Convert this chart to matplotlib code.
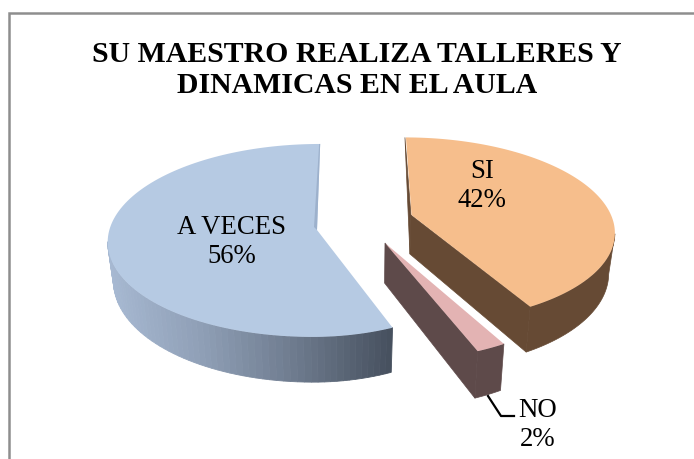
import numpy as np
import matplotlib.pyplot as plt
from matplotlib.colors import LinearSegmentedColormap

categorias = ["SI", "NO", "A VECES"]
porcentajes = [42, 2, 56]
colores_top = ["#F6BE8C", "#E3B3B3", "#B6CAE3"]
colores_side = ["#664A34", "#5E4A4A", None]

titulo = "SU MAESTRO REALIZA TALLERES Y\nDINAMICAS EN EL AULA"

# layout of each exploded slice, in pixels: arc centre, hub, radii
centro = [(411, 215), (385, 243), (317, 225)]
hub = [(411, 215), (385, 243), (317, 230)]
rx_der = [200, 207, 184]
rx_izq = [200, 207, 206]
ry = [90, 99, 94]
prof = [39, 40, 38]
pers = 0.16
vp = [367, 367, 340]

plt.rcParams['font.family'] = ['Liberation Serif', 'DejaVu Serif']
fig = plt.figure(figsize=(6.94, 4.59), dpi=100)
ax = fig.add_axes([0, 0, 1, 1])
ax.set_xlim(0, 694)
ax.set_ylim(459, 0)
ax.axis('off')

# marco
ax.plot([9.5, 9.5, 694], [459, 13, 13], color="#8E8E8E", lw=1.8, solid_joinstyle='miter')

def punto(i, t):
    u, v = np.sin(t), -np.cos(t)
    s = 1 / (1 - pers * v)
    rx = rx_der[i] if u > 0 else rx_izq[i]
    cx, cy = centro[i]
    return cx + rx * u * s + (cx - vp[i]) * (s - 1), cy + ry[i] * v * s, s

def abajo(i, x, y, s):
    return vp[i] + (x - vp[i]) * 0.975, y + prof[i] * s

def arco(i, t0, t1):
    ts = np.linspace(t0, t1, 120)
    return [punto(i, t) for t in ts]

fracs = np.cumsum([0] + porcentajes) / sum(porcentajes) * 2 * np.pi
grad = LinearSegmentedColormap.from_list("g", ["#A7B9D2", "#8F9FB6", "#6E7B8E", "#47515F"])

# SI
pts = arco(0, fracs[0], fracs[1])
hx, hy = hub[0]
low = [abajo(0, *p) for p in pts]
hlow = abajo(0, hx, hy, 1)
k = int(np.argmax([p[0] for p in pts]))
ax.fill([p[0] for p in pts[k:]] + [p[0] for p in low[k:][::-1]], [p[1] for p in pts[k:]] + [p[1] for p in low[k:][::-1]],
        color=colores_side[0], lw=0.5)
ax.fill([hx, pts[-1][0], low[-1][0], hlow[0]], [hy, pts[-1][1], low[-1][1], hlow[1]], color=colores_side[0], lw=0.5)
ax.fill([pts[0][0], hx, hlow[0]], [pts[0][1], hy, hlow[1]], color=colores_side[0], lw=0.5)
ax.fill([pts[0][0] + 1] + [p[0] for p in pts[1:]] + [hx + 0.5], [pts[0][1]] + [p[1] for p in pts[1:]] + [hy], color=colores_top[0], lw=0)

# NO
pts = arco(1, fracs[1], fracs[2])
hx, hy = hub[1]
low = [abajo(1, *p) for p in pts]
hlow = abajo(1, hx, hy, 1)
ax.fill([p[0] for p in pts] + [p[0] for p in low[::-1]], [p[1] for p in pts] + [p[1] for p in low[::-1]],
        color=colores_side[1], lw=0.5)
ax.fill([hx, pts[-1][0], low[-1][0], hlow[0]], [hy, pts[-1][1], low[-1][1], hlow[1]], color=colores_side[1], lw=0.5)
ax.fill([p[0] for p in pts] + [hx], [p[1] for p in pts] + [hy], color=colores_top[1], lw=0)

# A VECES
pts = arco(2, fracs[2], fracs[3])
hx, hy = hub[2]
low = [abajo(2, *p) for p in pts]
k = int(np.argmin([p[0] for p in pts]))
for a, b, c, d in zip(pts[:k], pts[1:k + 1], low[:k], low[1:k + 1]):
    col = grad(1 - (pts[0][0] - a[0]) / (pts[0][0] - pts[k][0]))
    ax.fill([a[0], b[0], d[0], c[0]], [a[1], b[1], d[1], c[1]], color=col, lw=0.6)
ax.fill([p[0] for p in pts] + [hx], [p[1] for p in pts] + [hy], color=colores_top[2], lw=0)
ax.fill([pts[-1][0], hx, hx - 3, pts[-1][0] - 1], [pts[-1][1], hy, hy - 3, pts[-1][1]], color="#9DB1CC", lw=0)

# textos
ax.text(357, 70, titulo, ha='center', va='center', fontsize=21.4, fontweight='bold', color='black', linespacing=1.15)
pos_txt = [(482, 186), (538, 425), (232, 242)]
for c, v, (x, y) in zip(categorias, porcentajes, pos_txt):
    ax.text(x, y, f"{c}\n{v}%", ha='center', va='center', fontsize=19.3, color='black', linespacing=1.24)
ax.plot([488, 501, 514], [396, 416, 416], color='black', lw=1.6)

fig.savefig("out.png", dpi=100)
